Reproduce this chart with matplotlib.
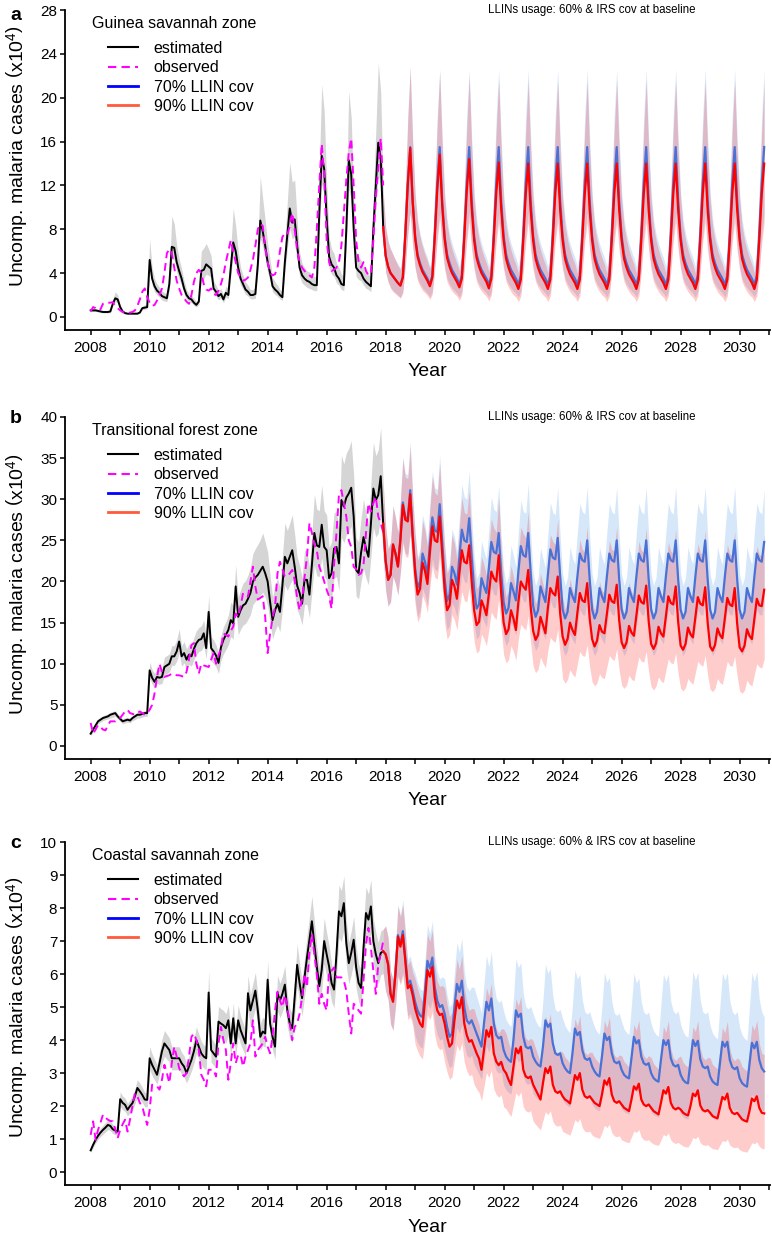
import numpy as np
import matplotlib
matplotlib.use("Agg")
import matplotlib.pyplot as plt
from matplotlib.lines import Line2D

plt.rcParams["font.family"] = ["Liberation Sans", "DejaVu Sans"]
plt.rcParams["mathtext.fontset"] = "custom"
plt.rcParams["mathtext.rm"] = "Liberation Sans"
plt.rcParams["mathtext.it"] = "Liberation Sans:italic"
plt.rcParams["mathtext.bf"] = "Liberation Sans:bold"

# ---------------- labels / categories ----------------
zones = ["Guinea savannah zone", "Transitional forest zone", "Coastal savannah zone"]
panel_letters = ["a", "b", "c"]
legend_labels = ["estimated", "observed", "70% LLIN cov", "90% LLIN cov"]
scenario_note = "LLINs usage: 60% & IRS cov at baseline"
year_ticks = list(range(2008, 2032))
year_labels = [str(y) if (y % 2 == 0 and y <= 2030) else "" for y in year_ticks]
yticks_a = [0, 4, 8, 12, 16, 20, 24, 28]
yticks_b = [0, 5, 10, 15, 20, 25, 30, 35, 40]
yticks_c = [0, 1, 2, 3, 4, 5, 6, 7, 8, 9, 10]
START_YEAR = 2008  # monthly series start Jan 2008; projections start Jan 2018

# ---------------- panel a: Guinea savannah (x10^4 cases, monthly) ----------------
est_a = [
    0.6, 0.6, 0.6, 0.55, 0.5, 0.45, 0.45, 0.45, 0.5, 1.2, 1.7, 1.6,
    0.9, 0.5, 0.35, 0.3, 0.3, 0.3, 0.3, 0.3, 0.4, 0.8, 0.85, 0.9,
    5.2, 3.5, 2.8, 2.4, 2.2, 1.9, 1.8, 1.7, 3.0, 6.4, 6.3, 5.0,
    4.2, 3.5, 2.6, 2.0, 1.7, 1.6, 1.3, 1.1, 1.4, 4.2, 4.3, 4.8,
    4.6, 4.4, 2.6, 2.3, 1.9, 2.1, 1.6, 2.2, 2.0, 4.5, 6.8, 6.0,
    4.5, 3.5, 3.0, 2.5, 2.3, 2.0, 2.0, 2.1, 4.8, 8.8, 7.8, 6.5,
    5.0, 4.0, 2.8, 2.5, 2.3, 2.0, 1.8, 5.0, 7.5, 9.9, 8.6, 8.9,
    6.5, 4.5, 3.8, 3.5, 3.3, 3.2, 3.0, 2.9, 2.9, 9.5, 14.7, 13.5,
    9.0, 5.5, 4.8, 4.5, 3.8, 3.5, 3.0, 2.9, 8.0, 14.3, 13.0, 8.0,
    4.5, 4.2, 4.0, 3.5, 3.2, 3.0, 2.8, 8.0, 12.0, 15.9, 14.5, 8.2,
]
est_a_hi = [
    0.75, 0.75, 0.75, 0.7, 0.65, 0.6, 0.6, 0.6, 0.65, 1.6, 2.3, 2.0,
    1.1, 0.65, 0.45, 0.4, 0.4, 0.4, 0.4, 0.4, 0.55, 1.0, 1.1, 1.2,
    7.1, 4.5, 3.5, 3.0, 2.7, 2.4, 2.2, 2.1, 4.0, 9.2, 8.5, 6.5,
    5.3, 4.4, 3.3, 2.5, 2.1, 2.0, 1.7, 1.4, 1.8, 6.0, 6.3, 6.7,
    6.2, 5.6, 3.3, 2.9, 2.4, 2.6, 2.0, 2.8, 2.6, 6.3, 9.9, 8.3,
    6.0, 4.5, 3.8, 3.2, 2.9, 2.5, 2.5, 2.7, 6.5, 12.8, 10.8, 8.8,
    6.7, 5.2, 3.6, 3.2, 2.9, 2.5, 2.3, 6.8, 10.5, 14.1, 12.3, 12.5,
    8.8, 5.9, 4.9, 4.5, 4.2, 4.1, 3.8, 3.7, 3.7, 13.5, 21.2, 18.8,
    12.3, 7.3, 6.2, 5.8, 4.9, 4.5, 3.9, 3.7, 11.0, 20.6, 18.2, 11.0,
    6.0, 5.5, 5.2, 4.5, 4.1, 3.9, 3.6, 11.0, 17.0, 23.2, 20.5, 11.5,
]
est_a_lo = [
    0.5, 0.5, 0.5, 0.45, 0.4, 0.37, 0.37, 0.37, 0.4, 1.0, 1.4, 1.3,
    0.7, 0.4, 0.28, 0.24, 0.24, 0.24, 0.24, 0.24, 0.32, 0.65, 0.7, 0.75,
    4.3, 2.9, 2.3, 2.0, 1.8, 1.55, 1.45, 1.4, 2.5, 5.3, 5.2, 4.1,
    3.4, 2.9, 2.1, 1.6, 1.4, 1.3, 1.05, 0.9, 1.15, 3.4, 3.5, 3.9,
    3.8, 3.6, 2.1, 1.9, 1.55, 1.7, 1.3, 1.8, 1.65, 3.7, 5.6, 4.9,
    3.7, 2.9, 2.5, 2.05, 1.9, 1.65, 1.65, 1.7, 3.9, 7.2, 6.4, 5.3,
    4.1, 3.3, 2.3, 2.05, 1.9, 1.65, 1.5, 4.1, 6.2, 8.1, 7.1, 7.3,
    5.3, 3.7, 3.1, 2.9, 2.7, 2.6, 2.5, 2.4, 2.4, 7.8, 12.1, 11.1,
    7.4, 4.5, 3.9, 3.7, 3.1, 2.9, 2.5, 2.4, 6.6, 11.7, 10.7, 6.6,
    3.7, 3.4, 3.3, 2.9, 2.6, 2.5, 2.3, 6.6, 9.8, 13.0, 11.9, 6.7,
]
obs_a = [
    0.5, 0.9, 0.8, 0.6, 0.7, 1.2, 1.3, 1.3, 1.3, 1.35, 1.0, 0.8,
    0.6, 0.45, 0.4, 0.35, 0.4, 0.45, 0.6, 1.0, 1.6, 2.3, 2.6, 1.8,
    1.3, 1.0, 1.1, 1.5, 2.0, 2.6, 4.0, 5.8, 6.2, 5.8, 4.5, 3.3,
    2.6, 2.0, 1.7, 1.4, 1.2, 2.0, 3.2, 4.0, 4.3, 4.0, 3.0, 2.5,
    2.4, 2.6, 2.1, 2.0, 2.4, 3.0, 3.8, 5.0, 6.0, 7.0, 6.0, 5.0,
    4.0, 3.6, 3.3, 3.4, 3.6, 4.3, 5.2, 6.5, 8.0, 8.5, 8.3, 6.3,
    5.0, 4.0, 3.8, 3.9, 4.5, 6.0, 7.3, 7.6, 7.5, 8.3, 9.5, 8.0,
    6.0, 5.0, 4.5, 4.2, 4.0, 3.8, 3.6, 4.5, 8.0, 12.0, 15.8, 13.0,
    7.0, 5.0, 4.2, 4.3, 4.5, 5.0, 6.5, 9.5, 12.5, 15.0, 16.3, 12.0,
    7.0, 5.0, 4.5, 5.0, 4.2, 3.8, 4.0, 7.0, 11.0, 13.5, 16.3, 12.0,
]
llin70_a = [
    5.6, 4.6, 4.0, 3.7, 3.4, 3.1, 2.9, 3.7, 7.6, 12.2, 15.5, 10.6,
    7.4, 5.7, 4.9, 4.3, 3.9, 3.5, 2.95, 3.8, 7.7, 12.2, 15.5, 10.6,
    7.4, 5.7, 4.9, 4.3, 3.9, 3.5, 2.95, 3.8, 7.7, 12.2, 15.5, 10.6,
    7.4, 5.7, 4.9, 4.3, 3.9, 3.5, 2.95, 3.8, 7.7, 12.2, 15.5, 10.6,
    7.4, 5.7, 4.9, 4.3, 3.9, 3.5, 2.95, 3.8, 7.7, 12.2, 15.5, 10.6,
    7.4, 5.7, 4.9, 4.3, 3.9, 3.5, 2.95, 3.8, 7.7, 12.2, 15.5, 10.6,
    7.4, 5.7, 4.9, 4.3, 3.9, 3.5, 2.95, 3.8, 7.7, 12.2, 15.5, 10.6,
    7.4, 5.7, 4.9, 4.3, 3.9, 3.5, 2.95, 3.8, 7.7, 12.2, 15.5, 10.6,
    7.4, 5.7, 4.9, 4.3, 3.9, 3.5, 2.95, 3.8, 7.7, 12.2, 15.5, 10.6,
    7.4, 5.7, 4.9, 4.3, 3.9, 3.5, 2.95, 3.8, 7.7, 12.2, 15.5, 10.6,
    7.4, 5.7, 4.9, 4.3, 3.9, 3.5, 2.95, 3.8, 7.7, 12.2, 15.5, 10.6,
    7.4, 5.7, 4.9, 4.3, 3.9, 3.5, 2.95, 3.8, 7.7, 12.2, 15.5, 10.6,
    7.4, 5.7, 4.9, 4.3, 3.9, 3.5, 2.95, 3.8, 7.7, 12.2, 15.5,
]
llin70_a_hi = [
    8.2, 6.9, 6.2, 5.7, 5.2, 4.8, 4.5, 5.9, 11.6, 18.4, 22.8, 16.2,
    11.4, 8.9, 7.6, 6.7, 6.0, 5.4, 4.6, 6.1, 12.0, 18.5, 22.6, 16.4,
    11.4, 8.9, 7.6, 6.7, 6.0, 5.4, 4.6, 6.1, 12.0, 18.5, 22.6, 16.4,
    11.4, 8.9, 7.6, 6.7, 6.0, 5.4, 4.6, 6.1, 12.0, 18.5, 22.6, 16.4,
    11.4, 8.9, 7.6, 6.7, 6.0, 5.4, 4.6, 6.1, 12.0, 18.5, 22.6, 16.4,
    11.4, 8.9, 7.6, 6.7, 6.0, 5.4, 4.6, 6.1, 12.0, 18.5, 22.6, 16.4,
    11.4, 8.9, 7.6, 6.7, 6.0, 5.4, 4.6, 6.1, 12.0, 18.5, 22.6, 16.4,
    11.4, 8.9, 7.6, 6.7, 6.0, 5.4, 4.6, 6.1, 12.0, 18.5, 22.6, 16.4,
    11.4, 8.9, 7.6, 6.7, 6.0, 5.4, 4.6, 6.1, 12.0, 18.5, 22.6, 16.4,
    11.4, 8.9, 7.6, 6.7, 6.0, 5.4, 4.6, 6.1, 12.0, 18.5, 22.6, 16.4,
    11.4, 8.9, 7.6, 6.7, 6.0, 5.4, 4.6, 6.1, 12.0, 18.5, 22.6, 16.4,
    11.4, 8.9, 7.6, 6.7, 6.0, 5.4, 4.6, 6.1, 12.0, 18.5, 22.6, 16.4,
    11.4, 8.9, 7.6, 6.7, 6.0, 5.4, 4.6, 6.1, 12.0, 18.5, 22.6,
]
llin70_a_lo = [
    4.1, 3.2, 2.7, 2.4, 2.2, 2.0, 1.8, 2.3, 4.7, 7.6, 9.6, 6.6,
    4.6, 3.5, 3.0, 2.65, 2.4, 2.15, 1.8, 2.35, 4.7, 7.5, 9.5, 6.5,
    4.6, 3.5, 3.0, 2.65, 2.4, 2.15, 1.8, 2.35, 4.7, 7.5, 9.5, 6.5,
    4.6, 3.5, 3.0, 2.65, 2.4, 2.15, 1.8, 2.35, 4.7, 7.5, 9.5, 6.5,
    4.6, 3.5, 3.0, 2.65, 2.4, 2.15, 1.8, 2.35, 4.7, 7.5, 9.5, 6.5,
    4.6, 3.5, 3.0, 2.65, 2.4, 2.15, 1.8, 2.35, 4.7, 7.5, 9.5, 6.5,
    4.6, 3.5, 3.0, 2.65, 2.4, 2.15, 1.8, 2.35, 4.7, 7.5, 9.5, 6.5,
    4.6, 3.5, 3.0, 2.65, 2.4, 2.15, 1.8, 2.35, 4.7, 7.5, 9.5, 6.5,
    4.6, 3.5, 3.0, 2.65, 2.4, 2.15, 1.8, 2.35, 4.7, 7.5, 9.5, 6.5,
    4.6, 3.5, 3.0, 2.65, 2.4, 2.15, 1.8, 2.35, 4.7, 7.5, 9.5, 6.5,
    4.6, 3.5, 3.0, 2.65, 2.4, 2.15, 1.8, 2.35, 4.7, 7.5, 9.5, 6.5,
    4.6, 3.5, 3.0, 2.65, 2.4, 2.15, 1.8, 2.35, 4.7, 7.5, 9.5, 6.5,
    4.6, 3.5, 3.0, 2.65, 2.4, 2.15, 1.8, 2.35, 4.7, 7.5, 9.5,
]
llin90_a = [
    5.6, 4.6, 4.0, 3.7, 3.4, 3.1, 2.85, 3.6, 7.5, 12.0, 15.4, 10.5,
    7.2, 5.5, 4.7, 4.1, 3.7, 3.3, 2.8, 3.6, 7.3, 11.6, 14.8, 10.2,
    7.1, 5.4, 4.6, 4.0, 3.6, 3.2, 2.7, 3.5, 7.2, 11.5, 14.4, 10.0,
    7.0, 5.4, 4.6, 4.0, 3.6, 3.2, 2.6, 3.5, 7.1, 11.3, 14.1, 9.9,
    7.0, 5.3, 4.5, 3.9, 3.5, 3.1, 2.55, 3.4, 7.0, 11.2, 14.0, 9.8,
    7.0, 5.3, 4.5, 3.9, 3.5, 3.1, 2.55, 3.4, 7.0, 11.2, 14.0, 9.8,
    7.0, 5.3, 4.5, 3.9, 3.5, 3.1, 2.55, 3.4, 7.0, 11.2, 14.0, 9.8,
    7.0, 5.3, 4.5, 3.9, 3.5, 3.1, 2.55, 3.4, 7.0, 11.2, 14.0, 9.8,
    7.0, 5.3, 4.5, 3.9, 3.5, 3.1, 2.55, 3.4, 7.0, 11.2, 14.0, 9.8,
    7.0, 5.3, 4.5, 3.9, 3.5, 3.1, 2.55, 3.4, 7.0, 11.2, 14.0, 9.8,
    7.0, 5.3, 4.5, 3.9, 3.5, 3.1, 2.55, 3.4, 7.0, 11.2, 14.0, 9.8,
    7.0, 5.3, 4.5, 3.9, 3.5, 3.1, 2.55, 3.4, 7.0, 11.2, 14.0, 9.8,
    7.0, 5.3, 4.5, 3.9, 3.5, 3.1, 2.55, 3.4, 7.0, 11.2, 14.0,
]
llin90_a_hi = [
    8.2, 6.9, 6.2, 5.7, 5.2, 4.7, 4.3, 5.5, 11.4, 18.0, 22.8, 16.0,
    11.1, 8.6, 7.3, 6.4, 5.7, 5.1, 4.4, 5.8, 11.4, 17.6, 22.4, 15.8,
    10.9, 8.4, 7.1, 6.2, 5.5, 4.9, 4.2, 5.6, 11.2, 17.3, 22.0, 15.5,
    10.8, 8.4, 7.1, 6.2, 5.5, 4.9, 4.1, 5.6, 11.1, 17.1, 21.7, 15.3,
    10.8, 8.3, 7.0, 6.1, 5.4, 4.8, 4.0, 5.5, 11.0, 17.0, 21.6, 15.2,
    10.8, 8.3, 7.0, 6.1, 5.4, 4.8, 4.0, 5.5, 11.0, 17.0, 21.6, 15.2,
    10.8, 8.3, 7.0, 6.1, 5.4, 4.8, 4.0, 5.5, 11.0, 17.0, 21.6, 15.2,
    10.8, 8.3, 7.0, 6.1, 5.4, 4.8, 4.0, 5.5, 11.0, 17.0, 21.6, 15.2,
    10.8, 8.3, 7.0, 6.1, 5.4, 4.8, 4.0, 5.5, 11.0, 17.0, 21.6, 15.2,
    10.8, 8.3, 7.0, 6.1, 5.4, 4.8, 4.0, 5.5, 11.0, 17.0, 21.6, 15.2,
    10.8, 8.3, 7.0, 6.1, 5.4, 4.8, 4.0, 5.5, 11.0, 17.0, 21.6, 15.2,
    10.8, 8.3, 7.0, 6.1, 5.4, 4.8, 4.0, 5.5, 11.0, 17.0, 21.6, 15.2,
    10.8, 8.3, 7.0, 6.1, 5.4, 4.8, 4.0, 5.5, 11.0, 17.0, 21.6,
]
llin90_a_lo = [
    4.1, 3.2, 2.6, 2.3, 2.1, 1.9, 1.7, 2.2, 4.6, 7.4, 9.5, 6.4,
    4.4, 3.3, 2.8, 2.4, 2.2, 1.95, 1.6, 2.1, 4.3, 7.0, 9.0, 6.2,
    4.3, 3.2, 2.7, 2.35, 2.1, 1.9, 1.5, 2.0, 4.2, 6.9, 8.7, 6.1,
    4.3, 3.2, 2.7, 2.35, 2.1, 1.85, 1.45, 2.0, 4.1, 6.8, 8.6, 6.0,
    4.3, 3.2, 2.7, 2.3, 2.0, 1.8, 1.4, 1.9, 4.0, 6.8, 8.6, 6.0,
    4.3, 3.2, 2.7, 2.3, 2.0, 1.8, 1.4, 1.9, 4.0, 6.8, 8.6, 6.0,
    4.3, 3.2, 2.7, 2.3, 2.0, 1.8, 1.4, 1.9, 4.0, 6.8, 8.6, 6.0,
    4.3, 3.2, 2.7, 2.3, 2.0, 1.8, 1.4, 1.9, 4.0, 6.8, 8.6, 6.0,
    4.3, 3.2, 2.7, 2.3, 2.0, 1.8, 1.4, 1.9, 4.0, 6.8, 8.6, 6.0,
    4.3, 3.2, 2.7, 2.3, 2.0, 1.8, 1.4, 1.9, 4.0, 6.8, 8.6, 6.0,
    4.3, 3.2, 2.7, 2.3, 2.0, 1.8, 1.4, 1.9, 4.0, 6.8, 8.6, 6.0,
    4.3, 3.2, 2.7, 2.3, 2.0, 1.8, 1.4, 1.9, 4.0, 6.8, 8.6, 6.0,
    4.3, 3.2, 2.7, 2.3, 2.0, 1.8, 1.4, 1.9, 4.0, 6.8, 8.6,
]

# ---------------- panel b: Transitional forest ----------------
est_b = [
    1.5, 2.0, 2.5, 3.0, 3.2, 3.4, 3.5, 3.6, 3.8, 3.9, 4.0, 3.6,
    3.3, 3.0, 3.1, 3.2, 3.1, 3.4, 3.6, 3.8, 3.8, 3.9, 4.0, 4.0,
    9.2, 8.3, 7.8, 8.4, 8.3, 8.4, 9.6, 9.8, 10.0, 10.9, 10.9, 11.5,
    12.7, 10.9, 11.3, 10.5, 11.1, 10.9, 11.8, 12.5, 12.9, 13.0, 13.7, 11.9,
    16.3, 11.9, 11.5, 11.0, 10.1, 12.0, 12.9, 13.5, 14.1, 15.3, 14.9, 19.4,
    15.7, 16.5, 17.1, 17.3, 17.9, 18.6, 20.0, 20.5, 20.8, 21.3, 21.8, 21.0,
    20.0, 17.5, 15.3, 16.5, 17.3, 16.3, 19.5, 23.0, 22.2, 23.0, 23.8, 21.8,
    19.5, 18.6, 17.3, 20.2, 20.2, 18.4, 22.0, 25.9, 24.4, 24.2, 26.9, 24.2,
    23.8, 20.4, 21.0, 24.0, 24.2, 22.2, 29.9, 29.1, 30.2, 30.7, 31.4, 27.9,
    21.4, 21.0, 23.5, 25.4, 24.0, 23.0, 27.0, 31.3, 29.9, 30.5, 32.8, 27.0,
]
est_b_hi = [
    1.8, 2.3, 2.8, 3.3, 3.5, 3.7, 3.8, 3.9, 4.1, 4.2, 4.3, 3.9,
    3.6, 3.3, 3.4, 3.5, 3.4, 3.7, 3.9, 4.1, 4.1, 4.2, 4.3, 4.3,
    10.2, 9.3, 8.8, 9.4, 9.3, 9.4, 10.8, 11.0, 11.2, 12.2, 12.2, 12.9,
    14.2, 12.2, 12.7, 11.8, 12.4, 12.2, 13.2, 14.0, 14.4, 14.6, 15.3, 13.3,
    18.3, 13.3, 12.9, 12.3, 11.3, 13.4, 14.5, 15.1, 15.9, 17.5, 17.1, 22.0,
    18.1, 19.0, 19.8, 20.1, 20.8, 21.7, 23.4, 24.0, 24.5, 25.1, 25.9, 24.8,
    23.6, 20.7, 18.1, 19.5, 20.4, 19.3, 23.0, 27.1, 26.2, 27.1, 28.1, 25.7,
    23.0, 22.0, 20.4, 23.8, 23.8, 21.7, 26.0, 30.6, 28.8, 28.6, 31.7, 28.6,
    28.1, 24.1, 24.8, 28.3, 28.6, 26.2, 35.3, 34.3, 35.6, 36.2, 37.1, 32.9,
    25.3, 24.8, 27.7, 30.0, 28.3, 27.1, 31.9, 36.9, 35.3, 36.0, 38.7, 32.0,
]
est_b_lo = [
    1.3, 1.7, 2.2, 2.7, 2.9, 3.1, 3.2, 3.3, 3.4, 3.5, 3.6, 3.3,
    3.0, 2.7, 2.8, 2.9, 2.8, 3.1, 3.2, 3.4, 3.4, 3.5, 3.6, 3.6,
    8.3, 7.5, 7.0, 7.6, 7.5, 7.6, 8.6, 8.8, 9.0, 9.8, 9.8, 10.3,
    11.3, 9.7, 10.1, 9.3, 9.9, 9.7, 10.5, 11.1, 11.5, 11.6, 12.2, 10.6,
    14.2, 10.4, 10.0, 9.6, 8.8, 10.4, 11.2, 11.7, 12.3, 13.3, 13.0, 16.9,
    13.5, 14.2, 14.7, 14.9, 15.4, 16.0, 17.2, 17.6, 17.9, 18.3, 18.7, 18.1,
    17.0, 14.9, 13.0, 14.0, 14.7, 13.9, 16.6, 19.6, 18.9, 19.6, 20.2, 18.5,
    16.6, 15.8, 14.7, 17.2, 17.2, 15.6, 18.7, 22.0, 20.7, 20.6, 22.9, 20.6,
    20.2, 17.3, 17.9, 20.4, 20.6, 18.9, 25.4, 24.7, 25.7, 26.1, 26.7, 23.7,
    18.2, 17.9, 20.0, 21.6, 20.4, 19.6, 23.0, 26.6, 25.4, 25.9, 27.9, 23.0,
]
obs_b = [
    2.8, 1.5, 2.0, 2.55, 2.3, 2.0, 1.9, 2.5, 3.0, 3.0, 3.0, 3.2,
    3.4, 3.8, 4.2, 4.4, 4.0, 3.9, 3.8, 4.0, 4.2, 4.0, 3.8, 4.0,
    4.4, 5.0, 6.4, 8.4, 10.0, 9.0, 8.4, 8.5, 8.6, 8.8, 8.7, 8.6,
    8.6, 8.5, 8.4, 9.0, 10.5, 12.3, 12.5, 10.0, 8.8, 10.0, 9.8, 9.7,
    9.6, 10.5, 11.3, 10.0, 11.0, 11.9, 13.7, 13.5, 13.3, 14.0, 14.5, 16.1,
    15.7, 17.0, 18.6, 18.4, 18.2, 20.0, 21.8, 19.4, 17.8, 18.0, 18.2, 15.7,
    11.3, 13.7, 15.5, 16.9, 21.0, 22.4, 21.5, 20.6, 20.6, 21.0, 21.4, 20.2,
    18.0, 16.5, 17.8, 20.5, 23.0, 27.1, 25.9, 24.5, 23.8, 21.8, 21.0, 20.0,
    19.0, 18.2, 16.7, 22.0, 25.9, 30.5, 31.1, 29.5, 27.9, 25.0, 24.2, 21.8,
    21.5, 20.8, 21.0, 22.0, 25.9, 29.5, 28.5, 29.5, 30.3, 27.9, 27.1, 26.0,
]
llin70_b = [
    22.5, 20.2, 20.8, 24.5, 23.4, 21.9, 25.2, 29.6, 27.8, 27.7, 31.1, 25.9,
    21.6, 19.2, 20.0, 23.4, 22.4, 20.8, 24.6, 27.8, 26.2, 26.0, 29.4, 24.8,
    20.4, 17.6, 18.4, 21.8, 21.0, 19.6, 23.0, 26.3, 25.0, 24.8, 27.7, 23.0,
    19.0, 16.7, 17.2, 20.4, 19.4, 18.6, 21.6, 24.8, 23.6, 23.4, 25.9, 21.0,
    17.5, 16.1, 16.8, 19.8, 18.8, 17.7, 21.2, 24.3, 23.2, 23.0, 25.9, 21.0,
    17.0, 15.7, 16.5, 19.4, 18.4, 17.5, 20.8, 23.9, 22.9, 22.7, 25.3, 20.6,
    16.6, 15.5, 16.3, 19.2, 18.2, 17.5, 20.6, 23.4, 22.6, 22.4, 25.0, 20.3,
    16.6, 15.5, 16.3, 19.2, 18.2, 17.5, 20.6, 23.4, 22.6, 22.4, 25.0, 20.3,
    16.6, 15.5, 16.3, 19.2, 18.2, 17.5, 20.6, 23.4, 22.6, 22.4, 25.0, 20.3,
    16.6, 15.5, 16.3, 19.2, 18.2, 17.5, 20.6, 23.4, 22.6, 22.4, 25.0, 20.3,
    16.6, 15.5, 16.3, 19.2, 18.2, 17.5, 20.6, 23.4, 22.6, 22.4, 25.0, 20.3,
    16.6, 15.5, 16.3, 19.2, 18.2, 17.5, 20.6, 23.4, 22.6, 22.4, 25.0, 20.3,
    16.6, 15.5, 16.3, 19.2, 18.2, 17.5, 20.6, 23.4, 22.6, 22.4, 24.8,
]
llin70_b_hi = [
    26.8, 24.0, 24.8, 29.2, 27.8, 26.1, 30.0, 35.2, 33.1, 33.0, 37.0, 30.8,
    25.9, 23.0, 24.0, 28.1, 26.9, 25.0, 29.5, 33.4, 31.4, 31.2, 35.3, 29.8,
    24.7, 21.3, 22.3, 26.4, 25.4, 23.7, 27.8, 31.8, 30.3, 30.0, 33.5, 27.8,
    23.2, 20.4, 21.0, 24.9, 23.7, 22.7, 26.4, 30.3, 28.8, 28.5, 31.6, 25.6,
    21.5, 19.8, 20.7, 24.4, 23.1, 21.8, 26.1, 29.9, 28.5, 28.3, 31.9, 25.8,
    21.1, 19.5, 20.5, 24.1, 22.8, 21.7, 25.8, 29.6, 28.4, 28.1, 31.4, 25.5,
    20.9, 19.5, 20.5, 24.2, 22.9, 22.1, 26.0, 29.5, 28.5, 28.2, 31.5, 25.6,
    20.9, 19.5, 20.5, 24.2, 22.9, 22.1, 26.0, 29.5, 28.5, 28.2, 31.5, 25.6,
    20.9, 19.5, 20.5, 24.2, 22.9, 22.1, 26.0, 29.5, 28.5, 28.2, 31.5, 25.6,
    20.9, 19.5, 20.5, 24.2, 22.9, 22.1, 26.0, 29.5, 28.5, 28.2, 31.5, 25.6,
    20.9, 19.5, 20.5, 24.2, 22.9, 22.1, 26.0, 29.5, 28.5, 28.2, 31.5, 25.6,
    20.9, 19.5, 20.5, 24.2, 22.9, 22.1, 26.0, 29.5, 28.5, 28.2, 31.5, 25.6,
    20.9, 19.5, 20.5, 24.2, 22.9, 22.1, 26.0, 29.5, 28.5, 28.2, 31.2,
]
llin70_b_lo = [
    18.9, 17.0, 17.5, 20.6, 19.7, 18.4, 21.2, 24.9, 23.4, 23.3, 26.1, 21.8,
    17.7, 15.7, 16.4, 19.2, 18.4, 17.1, 20.2, 22.8, 21.5, 21.3, 24.1, 20.3,
    16.3, 14.1, 14.7, 17.4, 16.8, 15.7, 18.4, 21.0, 20.0, 19.8, 22.2, 18.4,
    14.8, 13.0, 13.4, 15.9, 15.1, 14.5, 16.8, 19.3, 18.4, 18.3, 20.2, 16.4,
    13.3, 12.2, 12.8, 15.0, 14.3, 13.5, 16.1, 18.5, 17.6, 17.5, 19.7, 16.0,
    12.6, 11.6, 12.2, 14.4, 13.6, 13.0, 15.4, 17.7, 16.9, 16.8, 18.7, 15.2,
    11.8, 11.0, 11.6, 13.6, 12.9, 12.4, 14.6, 16.6, 16.0, 15.9, 17.8, 14.4,
    11.8, 11.0, 11.6, 13.6, 12.9, 12.4, 14.6, 16.6, 16.0, 15.9, 17.8, 14.4,
    11.8, 11.0, 11.6, 13.6, 12.9, 12.4, 14.6, 16.6, 16.0, 15.9, 17.8, 14.4,
    11.8, 11.0, 11.6, 13.6, 12.9, 12.4, 14.6, 16.6, 16.0, 15.9, 17.8, 14.4,
    11.8, 11.0, 11.6, 13.6, 12.9, 12.4, 14.6, 16.6, 16.0, 15.9, 17.8, 14.4,
    11.8, 11.0, 11.6, 13.6, 12.9, 12.4, 14.6, 16.6, 16.0, 15.9, 17.8, 14.4,
    11.8, 11.0, 11.6, 13.6, 12.9, 12.4, 14.6, 16.6, 16.0, 15.9, 17.6,
]
llin90_b = [
    22.5, 20.2, 20.8, 24.5, 23.4, 21.8, 25.0, 29.3, 27.5, 27.3, 30.6, 25.4,
    21.0, 18.4, 19.1, 22.3, 21.3, 19.7, 23.5, 26.7, 25.0, 24.8, 27.9, 23.4,
    19.0, 16.5, 17.1, 20.2, 19.4, 17.9, 21.0, 23.8, 22.4, 22.2, 24.4, 20.0,
    16.5, 14.7, 15.1, 17.7, 16.9, 15.9, 18.5, 21.2, 20.4, 20.0, 23.2, 18.6,
    15.0, 13.6, 14.2, 16.5, 15.5, 14.1, 17.5, 20.0, 19.4, 19.0, 21.4, 16.9,
    14.0, 12.9, 13.5, 15.7, 14.7, 13.7, 16.8, 19.2, 18.6, 18.3, 20.6, 16.1,
    13.3, 12.3, 13.0, 15.0, 14.1, 13.5, 16.2, 18.6, 17.7, 17.5, 19.8, 15.5,
    13.0, 12.1, 12.8, 14.7, 13.9, 13.7, 16.0, 18.4, 17.6, 17.4, 19.6, 15.3,
    12.6, 11.9, 12.6, 14.6, 13.8, 13.4, 15.9, 18.3, 17.5, 17.3, 19.5, 15.2,
    12.4, 11.8, 12.5, 14.5, 13.7, 13.3, 15.8, 18.2, 17.4, 17.2, 19.4, 15.1,
    12.2, 11.7, 12.4, 14.4, 13.6, 13.2, 15.7, 18.1, 17.3, 17.1, 19.3, 15.0,
    12.1, 11.6, 12.3, 14.3, 13.5, 13.1, 15.6, 18.0, 17.2, 17.0, 19.2, 14.9,
    12.0, 11.5, 12.2, 14.2, 13.4, 13.0, 15.5, 17.9, 17.1, 17.0, 19.0,
]
llin90_b_hi = [
    26.8, 24.0, 24.8, 29.2, 27.8, 25.9, 29.8, 34.9, 32.7, 32.5, 36.4, 30.2,
    25.8, 22.6, 23.5, 27.4, 26.2, 24.2, 28.9, 32.8, 30.8, 30.5, 34.3, 28.8,
    24.1, 21.0, 21.7, 25.7, 24.6, 22.7, 26.7, 30.2, 28.4, 28.2, 31.0, 25.4,
    21.5, 19.1, 19.6, 23.0, 22.0, 20.7, 24.1, 27.6, 26.5, 26.0, 30.2, 24.2,
    20.0, 18.1, 18.9, 21.9, 20.6, 18.8, 23.3, 26.6, 25.8, 25.3, 28.5, 22.5,
    18.8, 17.3, 18.1, 21.0, 19.7, 18.4, 22.5, 25.7, 24.9, 24.5, 27.6, 21.6,
    18.0, 16.6, 17.6, 20.3, 19.0, 18.2, 21.9, 25.1, 23.9, 23.6, 26.7, 20.9,
    17.7, 16.5, 17.4, 20.0, 18.9, 18.6, 21.8, 25.0, 23.9, 23.7, 26.7, 20.8,
    17.1, 16.2, 17.1, 19.9, 18.8, 18.2, 21.6, 24.9, 23.8, 23.5, 26.5, 20.7,
    16.9, 16.0, 17.0, 19.7, 18.6, 18.1, 21.5, 24.8, 23.7, 23.4, 26.4, 20.5,
    16.6, 15.9, 16.9, 19.6, 18.5, 18.0, 21.4, 24.6, 23.5, 23.3, 26.2, 20.4,
    16.5, 15.8, 16.7, 19.4, 18.4, 17.8, 21.2, 24.5, 23.4, 23.1, 26.1, 20.3,
    16.3, 15.6, 16.6, 19.3, 18.2, 17.7, 21.1, 24.3, 23.3, 23.1, 25.8,
]
llin90_b_lo = [
    18.9, 17.0, 17.5, 20.6, 19.7, 18.3, 21.0, 24.6, 23.1, 22.9, 25.7, 21.3,
    17.2, 15.1, 15.7, 18.3, 17.5, 16.2, 19.3, 21.9, 20.5, 20.3, 22.9, 19.2,
    15.0, 13.0, 13.5, 16.0, 15.3, 14.1, 16.6, 18.8, 17.7, 17.5, 19.3, 15.8,
    12.7, 11.3, 11.6, 13.6, 13.0, 12.2, 14.2, 16.3, 15.7, 15.4, 17.9, 14.3,
    11.1, 10.1, 10.5, 12.2, 11.5, 10.4, 13.0, 14.8, 14.4, 14.1, 15.8, 12.5,
    9.7, 8.9, 9.3, 10.8, 10.1, 9.5, 11.6, 13.2, 12.8, 12.6, 14.2, 11.1,
    8.2, 7.6, 8.1, 9.3, 8.7, 8.4, 10.0, 11.5, 11.0, 10.9, 12.3, 9.6,
    7.8, 7.3, 7.7, 8.8, 8.3, 8.2, 9.6, 11.0, 10.6, 10.4, 11.8, 9.2,
    7.4, 7.0, 7.4, 8.6, 8.1, 7.9, 9.4, 10.8, 10.3, 10.2, 11.5, 9.0,
    7.2, 6.8, 7.3, 8.4, 7.9, 7.7, 9.2, 10.6, 10.1, 10.0, 11.3, 8.8,
    7.0, 6.7, 7.1, 8.2, 7.8, 7.5, 8.9, 10.3, 9.9, 9.7, 11.0, 8.6,
    6.9, 6.6, 7.0, 8.2, 7.7, 7.5, 8.9, 10.3, 9.8, 9.7, 10.9, 8.5,
    6.7, 6.4, 6.8, 8.0, 7.5, 7.3, 8.7, 10.0, 9.6, 9.5, 10.6,
]

# ---------------- panel c: Coastal savannah ----------------
est_c = [
    0.66, 0.83, 0.98, 1.1, 1.2, 1.28, 1.35, 1.43, 1.4, 1.3, 1.26, 1.23,
    2.21, 2.1, 2.04, 1.89, 2.0, 2.09, 2.3, 2.55, 2.45, 2.34, 2.2, 2.19,
    3.45, 3.25, 3.1, 2.95, 3.3, 3.66, 3.9, 3.8, 3.7, 3.45, 3.45, 3.45,
    3.45, 3.3, 3.2, 3.0, 3.2, 3.4, 3.66, 4.0, 3.8, 3.6, 3.5, 3.45,
    5.44, 3.7, 3.6, 3.5, 4.56, 4.5, 4.45, 4.36, 4.6, 3.9, 4.66, 3.9,
    4.6, 4.3, 4.1, 3.9, 5.42, 4.9, 5.2, 5.5, 4.9, 4.1, 4.26, 4.2,
    5.83, 4.5, 4.1, 3.8, 5.42, 5.2, 5.4, 5.68, 4.9, 4.5, 4.36, 5.3,
    6.28, 5.73, 5.27, 5.9, 6.5, 7.04, 7.6, 6.9, 6.23, 5.63, 6.13, 7.0,
    6.6, 6.23, 5.73, 5.53, 6.6, 7.9, 7.75, 8.15, 6.94, 6.33, 6.64, 7.04,
    6.2, 5.73, 5.58, 6.8, 7.85, 7.65, 8.05, 7.0, 6.6, 6.33, 6.64, 6.69,
]
est_c_hi = [
    0.75, 0.93, 1.09, 1.22, 1.33, 1.42, 1.5, 1.58, 1.55, 1.44, 1.4, 1.37,
    2.43, 2.31, 2.24, 2.08, 2.2, 2.3, 2.53, 2.8, 2.7, 2.57, 2.42, 2.41,
    3.8, 3.58, 3.41, 3.25, 3.63, 4.03, 4.29, 4.18, 4.07, 3.8, 3.8, 3.8,
    3.8, 3.63, 3.52, 3.3, 3.52, 3.74, 4.03, 4.4, 4.18, 3.96, 3.85, 3.8,
    6.1, 4.07, 3.96, 3.85, 5.02, 4.95, 4.9, 4.8, 5.06, 4.29, 5.13, 4.29,
    5.06, 4.73, 4.51, 4.29, 5.96, 5.39, 5.72, 6.05, 5.39, 4.51, 4.69, 4.62,
    6.41, 4.95, 4.51, 4.18, 5.96, 5.72, 5.94, 6.25, 5.39, 4.95, 4.8, 5.83,
    6.91, 6.3, 5.8, 6.49, 7.15, 7.74, 8.36, 7.59, 6.85, 6.19, 6.74, 7.7,
    7.26, 6.85, 6.3, 6.08, 7.26, 8.69, 8.53, 8.97, 7.63, 6.96, 7.3, 7.74,
    6.82, 6.3, 6.14, 7.48, 8.64, 8.42, 8.86, 7.7, 7.26, 6.96, 7.3, 7.36,
]
est_c_lo = [
    0.59, 0.75, 0.88, 0.99, 1.08, 1.15, 1.22, 1.29, 1.26, 1.17, 1.13, 1.11,
    1.99, 1.89, 1.84, 1.7, 1.8, 1.88, 2.07, 2.3, 2.2, 2.11, 1.98, 1.97,
    3.1, 2.93, 2.79, 2.66, 2.97, 3.29, 3.51, 3.42, 3.33, 3.1, 3.1, 3.1,
    3.1, 2.97, 2.88, 2.7, 2.88, 3.06, 3.29, 3.6, 3.42, 3.24, 3.15, 3.1,
    4.9, 3.33, 3.24, 3.15, 4.1, 4.05, 4.0, 3.92, 4.14, 3.51, 4.19, 3.51,
    4.14, 3.87, 3.69, 3.51, 4.88, 4.41, 4.68, 4.95, 4.41, 3.69, 3.83, 3.78,
    5.25, 4.05, 3.69, 3.42, 4.88, 4.68, 4.86, 5.11, 4.41, 4.05, 3.92, 4.77,
    5.65, 5.16, 4.74, 5.31, 5.85, 6.34, 6.84, 6.21, 5.61, 5.07, 5.52, 6.3,
    5.94, 5.61, 5.16, 4.98, 5.94, 7.11, 6.98, 7.34, 6.25, 5.7, 5.98, 6.34,
    5.58, 5.16, 5.02, 6.12, 7.07, 6.89, 7.25, 6.3, 5.94, 5.7, 5.98, 6.02,
]
obs_c = [
    1.13, 1.54, 0.98, 1.28, 1.5, 1.74, 1.65, 1.59, 1.55, 1.54, 1.3, 1.03,
    1.28, 1.45, 1.59, 1.23, 1.59, 2.0, 2.39, 2.3, 2.1, 1.99, 1.7, 1.43,
    1.89, 2.65, 2.62, 2.6, 2.5, 2.8, 3.25, 3.0, 2.7, 3.3, 3.8, 3.5,
    3.15, 3.0, 2.9, 3.0, 3.5, 4.1, 4.2, 4.0, 3.7, 2.95, 2.8, 2.6,
    3.1, 3.1, 3.1, 2.9, 3.9, 4.4, 4.0, 3.7, 2.8, 3.3, 3.9, 3.3,
    3.55, 3.55, 3.2, 3.5, 3.7, 3.9, 4.6, 3.5, 3.7, 3.8, 3.9, 4.1,
    3.8, 3.6, 4.1, 4.9, 5.47, 5.2, 5.0, 5.37, 5.0, 4.5, 4.0, 4.4,
    4.5, 4.8, 5.3, 6.0, 5.6, 6.7, 7.2, 6.6, 6.0, 5.1, 5.4, 5.1,
    4.9, 6.1, 6.1, 6.2, 5.9, 5.9, 5.9, 5.8, 5.5, 4.8, 4.2, 5.1,
    5.0, 4.9, 4.8, 5.8, 6.9, 7.4, 6.8, 6.1, 5.4, 6.3, 6.6, 7.0,
]
llin70_c = [
    6.6, 6.3, 5.4, 5.2, 6.05, 7.18, 6.9, 7.3, 6.5, 5.7, 5.8, 5.5,
    5.15, 4.9, 4.75, 4.7, 5.5, 6.4, 6.17, 6.5, 5.6, 5.2, 5.0, 5.06,
    4.8, 4.4, 4.1, 4.2, 5.0, 5.7, 5.46, 5.8, 5.0, 4.6, 4.5, 4.6,
    4.4, 4.2, 4.0, 3.8, 4.5, 5.16, 4.9, 5.26, 4.5, 4.15, 4.05, 4.1,
    3.7, 3.5, 3.4, 3.34, 4.0, 4.9, 4.7, 4.8, 4.1, 3.8, 3.75, 3.8,
    3.5, 3.35, 3.25, 3.2, 3.8, 4.6, 4.4, 4.5, 3.9, 3.6, 3.55, 3.6,
    3.3, 3.15, 3.05, 3.0, 3.6, 4.35, 4.15, 4.25, 3.7, 3.45, 3.4, 3.45,
    3.2, 3.05, 2.95, 2.9, 3.5, 4.2, 4.0, 4.1, 3.6, 3.35, 3.3, 3.35,
    3.1, 2.95, 2.88, 2.84, 3.45, 4.1, 3.9, 4.0, 3.5, 3.3, 3.25, 3.3,
    3.0, 2.85, 2.78, 2.74, 3.4, 4.0, 3.85, 4.0, 3.45, 3.25, 3.2, 3.25,
    2.95, 2.8, 2.72, 2.69, 3.35, 4.0, 3.82, 3.98, 3.42, 3.2, 3.15, 3.2,
    2.9, 2.75, 2.68, 2.64, 3.3, 3.95, 3.8, 3.95, 3.4, 3.18, 3.12, 3.18,
    2.85, 2.7, 2.63, 2.59, 3.25, 3.92, 3.75, 3.95, 3.4, 3.15, 3.05,
]
llin70_c_hi = [
    7.46, 7.12, 6.1, 5.88, 6.84, 8.11, 7.8, 8.25, 7.35, 6.44, 6.55, 6.22,
    6.03, 5.73, 5.56, 5.5, 6.44, 7.49, 7.22, 7.61, 6.55, 6.08, 5.85, 5.92,
    5.86, 5.37, 5.0, 5.12, 6.1, 6.95, 6.66, 7.08, 6.1, 5.61, 5.49, 5.61,
    5.59, 5.33, 5.08, 4.83, 5.72, 6.55, 6.22, 6.68, 5.72, 5.27, 5.14, 5.21,
    4.88, 4.62, 4.49, 4.41, 5.28, 6.47, 6.2, 6.34, 5.41, 5.02, 4.95, 5.02,
    4.8, 4.59, 4.45, 4.38, 5.21, 6.3, 6.03, 6.17, 5.34, 4.93, 4.86, 4.93,
    4.65, 4.44, 4.3, 4.23, 5.08, 6.13, 5.85, 5.99, 5.22, 4.86, 4.79, 4.86,
    4.61, 4.39, 4.25, 4.18, 5.04, 6.05, 5.76, 5.9, 5.18, 4.82, 4.75, 4.82,
    4.56, 4.34, 4.23, 4.17, 5.07, 6.03, 5.73, 5.88, 5.15, 4.85, 4.78, 4.85,
    4.5, 4.28, 4.17, 4.11, 5.1, 6.0, 5.78, 6.0, 5.18, 4.88, 4.8, 4.88,
    4.48, 4.26, 4.13, 4.09, 5.09, 6.08, 5.81, 6.05, 5.2, 4.86, 4.79, 4.86,
    4.44, 4.21, 4.1, 4.04, 5.05, 6.04, 5.81, 6.04, 5.2, 4.87, 4.77, 4.87,
    4.39, 4.16, 4.05, 3.99, 5.01, 6.04, 5.78, 6.08, 5.24, 4.85, 4.7,
]
llin70_c_lo = [
    5.48, 5.23, 4.48, 4.32, 5.02, 5.96, 5.73, 6.06, 5.4, 4.73, 4.81, 4.57,
    4.12, 3.92, 3.8, 3.76, 4.4, 5.12, 4.94, 5.2, 4.48, 4.16, 4.0, 4.05,
    3.7, 3.39, 3.16, 3.23, 3.85, 4.39, 4.2, 4.47, 3.85, 3.54, 3.47, 3.54,
    3.26, 3.11, 2.96, 2.81, 3.33, 3.82, 3.63, 3.89, 3.33, 3.07, 3.0, 3.03,
    2.63, 2.49, 2.41, 2.37, 2.84, 3.48, 3.34, 3.41, 2.91, 2.7, 2.66, 2.7,
    2.38, 2.28, 2.21, 2.18, 2.58, 3.13, 2.99, 3.06, 2.65, 2.45, 2.41, 2.45,
    2.18, 2.08, 2.01, 1.98, 2.38, 2.87, 2.74, 2.81, 2.44, 2.28, 2.24, 2.28,
    2.05, 1.95, 1.89, 1.86, 2.24, 2.69, 2.56, 2.62, 2.3, 2.14, 2.11, 2.14,
    1.92, 1.83, 1.79, 1.76, 2.14, 2.54, 2.42, 2.48, 2.17, 2.05, 2.02, 2.05,
    1.83, 1.74, 1.7, 1.67, 2.07, 2.44, 2.35, 2.44, 2.1, 1.98, 1.95, 1.98,
    1.77, 1.68, 1.63, 1.61, 2.01, 2.4, 2.29, 2.39, 2.05, 1.92, 1.89, 1.92,
    1.74, 1.65, 1.61, 1.58, 1.98, 2.37, 2.28, 2.37, 2.04, 1.91, 1.87, 1.91,
    1.71, 1.62, 1.58, 1.55, 1.95, 2.35, 2.25, 2.37, 2.04, 1.89, 1.83,
]
llin90_c = [
    6.6, 6.3, 5.4, 5.16, 6.0, 7.13, 6.83, 7.18, 6.4, 5.57, 5.67, 5.36,
    4.96, 4.7, 4.5, 4.4, 5.2, 6.12, 5.92, 6.22, 5.3, 4.9, 4.76, 4.8,
    4.5, 4.1, 3.8, 3.9, 4.6, 5.2, 4.96, 5.3, 4.5, 4.15, 3.95, 4.0,
    3.8, 3.6, 3.44, 3.1, 3.7, 4.3, 4.1, 4.4, 3.6, 3.35, 3.24, 3.34,
    3.1, 3.0, 2.8, 2.64, 3.2, 3.75, 3.6, 3.8, 3.1, 2.9, 2.85, 2.9,
    2.65, 2.5, 2.35, 2.2, 2.7, 3.15, 3.0, 3.2, 2.65, 2.45, 2.4, 2.45,
    2.3, 2.2, 2.15, 2.08, 2.5, 2.94, 2.8, 3.0, 2.5, 2.3, 2.25, 2.3,
    2.2, 2.1, 2.05, 2.0, 2.35, 2.78, 2.65, 2.85, 2.35, 2.15, 2.1, 2.15,
    2.05, 1.95, 1.9, 1.85, 2.2, 2.6, 2.5, 2.68, 2.2, 2.05, 2.0, 2.05,
    1.95, 1.85, 1.8, 1.75, 2.1, 2.48, 2.38, 2.58, 2.1, 1.95, 1.9, 1.95,
    1.9, 1.8, 1.75, 1.72, 2.0, 2.38, 2.3, 2.48, 2.02, 1.88, 1.84, 1.88,
    1.8, 1.7, 1.66, 1.63, 1.95, 2.28, 2.2, 2.38, 1.95, 1.8, 1.76, 1.8,
    1.7, 1.6, 1.56, 1.53, 1.85, 2.23, 2.15, 2.3, 1.95, 1.8, 1.78,
]
llin90_c_hi = [
    7.46, 7.12, 6.1, 5.83, 6.78, 8.06, 7.72, 8.11, 7.23, 6.29, 6.41, 6.06,
    5.85, 5.55, 5.31, 5.19, 6.14, 7.22, 6.99, 7.34, 6.25, 5.78, 5.62, 5.66,
    5.58, 5.08, 4.71, 4.84, 5.7, 6.45, 6.15, 6.57, 5.58, 5.15, 4.9, 4.96,
    4.94, 4.68, 4.47, 4.03, 4.81, 5.59, 5.33, 5.72, 4.68, 4.36, 4.21, 4.34,
    4.34, 4.2, 3.92, 3.7, 4.48, 5.25, 5.04, 5.32, 4.34, 4.06, 3.99, 4.06,
    3.98, 3.75, 3.53, 3.3, 4.05, 4.73, 4.5, 4.8, 3.98, 3.68, 3.6, 3.68,
    3.63, 3.48, 3.4, 3.29, 3.95, 4.65, 4.42, 4.74, 3.95, 3.63, 3.56, 3.63,
    3.63, 3.47, 3.38, 3.3, 3.88, 4.59, 4.37, 4.7, 3.88, 3.55, 3.47, 3.55,
    3.53, 3.35, 3.27, 3.18, 3.78, 4.47, 4.3, 4.61, 3.78, 3.53, 3.44, 3.53,
    3.47, 3.29, 3.2, 3.12, 3.74, 4.41, 4.24, 4.59, 3.74, 3.47, 3.38, 3.47,
    3.52, 3.33, 3.24, 3.18, 3.7, 4.4, 4.26, 4.59, 3.74, 3.48, 3.4, 3.48,
    3.46, 3.26, 3.19, 3.13, 3.74, 4.38, 4.22, 4.57, 3.74, 3.46, 3.38, 3.46,
    3.4, 3.2, 3.12, 3.06, 3.7, 4.46, 4.3, 4.6, 3.9, 3.6, 3.56,
]
llin90_c_lo = [
    5.48, 5.23, 4.48, 4.28, 4.98, 5.92, 5.67, 5.96, 5.31, 4.62, 4.71, 4.45,
    3.87, 3.67, 3.51, 3.43, 4.06, 4.77, 4.62, 4.85, 4.13, 3.82, 3.71, 3.74,
    3.33, 3.03, 2.81, 2.89, 3.4, 3.85, 3.67, 3.92, 3.33, 3.07, 2.92, 2.96,
    2.66, 2.52, 2.41, 2.17, 2.59, 3.01, 2.87, 3.08, 2.52, 2.35, 2.27, 2.34,
    1.98, 1.92, 1.79, 1.69, 2.05, 2.4, 2.3, 2.43, 1.98, 1.86, 1.82, 1.86,
    1.54, 1.45, 1.36, 1.28, 1.57, 1.83, 1.74, 1.86, 1.54, 1.42, 1.39, 1.42,
    1.24, 1.19, 1.16, 1.12, 1.35, 1.59, 1.51, 1.62, 1.35, 1.24, 1.22, 1.24,
    1.12, 1.07, 1.05, 1.02, 1.2, 1.42, 1.35, 1.45, 1.2, 1.1, 1.07, 1.1,
    0.98, 0.94, 0.91, 0.89, 1.06, 1.25, 1.2, 1.29, 1.06, 0.98, 0.96, 0.98,
    0.9, 0.85, 0.83, 0.81, 0.97, 1.14, 1.09, 1.19, 0.97, 0.9, 0.87, 0.9,
    0.84, 0.79, 0.77, 0.76, 0.88, 1.05, 1.01, 1.09, 0.89, 0.83, 0.81, 0.83,
    0.76, 0.71, 0.7, 0.68, 0.82, 0.96, 0.92, 1.0, 0.82, 0.76, 0.74, 0.76,
    0.68, 0.64, 0.62, 0.61, 0.74, 0.89, 0.86, 0.92, 0.78, 0.72, 0.71,
]

# ---------------- figure ----------------
fig = plt.figure(figsize=(7.72, 12.41), dpi=100)

axes_rects = [
    [0.0842, 0.7341, 0.9132, 0.2578],
    [0.0842, 0.3884, 0.9132, 0.2756],
    [0.0842, 0.0451, 0.9132, 0.2764],
]
ylims = [(-1.19, 28), (-1.58, 40), (-0.39, 10)]
ytick_sets = [yticks_a, yticks_b, yticks_c]
letter_y = [20, 423, 848]
ylabel_y = [0.544, 0.513, 0.519]

panels = [
    (est_a, est_a_lo, est_a_hi, obs_a, llin70_a, llin70_a_lo, llin70_a_hi, llin90_a, llin90_a_lo, llin90_a_hi),
    (est_b, est_b_lo, est_b_hi, obs_b, llin70_b, llin70_b_lo, llin70_b_hi, llin90_b, llin90_b_lo, llin90_b_hi),
    (est_c, est_c_lo, est_c_hi, obs_c, llin70_c, llin70_c_lo, llin70_c_hi, llin90_c, llin90_c_lo, llin90_c_hi),
]

GRAY_BAND = "#D5D5D5"
BLUE_BAND = "#5FA3EB"
RED_BAND = "#FF0000"
BLUE_LINE = "#4A72D6"
RED_LINE = "#FF0000"
MAGENTA = "#FF00FF"

legend_handles = [
    Line2D([], [], color="black", lw=1.5),
    Line2D([], [], color=MAGENTA, lw=1.5, ls=(0, (4, 2.5))),
    Line2D([], [], color="#0000FF", lw=2.0),
    Line2D([], [], color="#FF5A3C", lw=2.0),
]

for i, (rect, data) in enumerate(zip(axes_rects, panels)):
    est, est_lo, est_hi, obs, p70, p70_lo, p70_hi, p90, p90_lo, p90_hi = [np.asarray(d, float) for d in data]
    ax = fig.add_axes(rect)
    n_hist = len(est)
    t_hist = START_YEAR + np.arange(n_hist) / 12.0
    t_obs = START_YEAR + np.arange(len(obs)) / 12.0
    t_proj = START_YEAR + (n_hist - 1 + np.arange(len(p70) + 1)) / 12.0

    def join(first, arr):
        return np.concatenate([[first], arr])

    ax.fill_between(t_hist, est_lo, est_hi, color=GRAY_BAND, lw=0, zorder=1)
    ax.fill_between(t_proj, join(est_lo[-1], p70_lo), join(est_hi[-1], p70_hi),
                    color=BLUE_BAND, alpha=0.25, lw=0, zorder=2)
    ax.fill_between(t_proj, join(est_lo[-1], p90_lo), join(est_hi[-1], p90_hi),
                    color=RED_BAND, alpha=0.2, lw=0, zorder=3)
    ax.plot(t_hist, est, color="black", lw=1.4, zorder=5)
    ax.plot(t_obs, obs, color=MAGENTA, lw=1.4, ls=(0, (4, 2.5)), zorder=6)
    ax.plot(t_proj, join(est[-1], p70), color=BLUE_LINE, lw=1.6, zorder=7)
    ax.plot(t_proj, join(est[-1], p90), color=RED_LINE, lw=1.6, zorder=8)

    ax.set_xlim(2007.13, 2031.03)
    ax.set_ylim(*ylims[i])
    ax.set_xticks(year_ticks)
    ax.set_xticklabels(year_labels)
    ax.set_yticks(ytick_sets[i])
    ax.spines["top"].set_visible(False)
    ax.spines["right"].set_visible(False)
    for s in ("left", "bottom"):
        ax.spines[s].set_linewidth(1.3)
    ax.tick_params(axis="both", direction="out", length=3.3, width=1.1, labelsize=11, color="black")
    ax.tick_params(axis="x", pad=4.5)
    ax.tick_params(axis="y", pad=2.2)

    ax.set_ylabel(r"Uncomp. malaria cases $\left(\mathrm{x10}^{4}\right)$", fontsize=14, va="center")
    ax.yaxis.set_label_coords(-0.0695, ylabel_y[i])
    ax.set_xlabel("Year", fontsize=14, va="center")
    ax.xaxis.set_label_coords(0.514, -42.0 / (rect[3] * 1241))

    h_px = rect[3] * 1241
    ax.text(0.038, 1 - 13.5 / h_px, zones[i], transform=ax.transAxes, fontsize=11.5,
            ha="left", va="center")
    ax.legend(legend_handles, legend_labels, loc="upper left",
              bbox_to_anchor=(0.061, 1 - 31.0 / h_px), frameon=False, fontsize=11.5,
              handlelength=1.9, handletextpad=0.95, labelspacing=0.27,
              borderpad=0, borderaxespad=0)
    ax.text(0.7475, 1.0, scenario_note, transform=ax.transAxes, fontsize=8.3,
            ha="center", va="center")
    fig.text(16 / 772, 1 - letter_y[i] / 1241, panel_letters[i], fontsize=14,
             fontweight="bold", ha="center", va="baseline")

fig.savefig("out.png", dpi=100)
